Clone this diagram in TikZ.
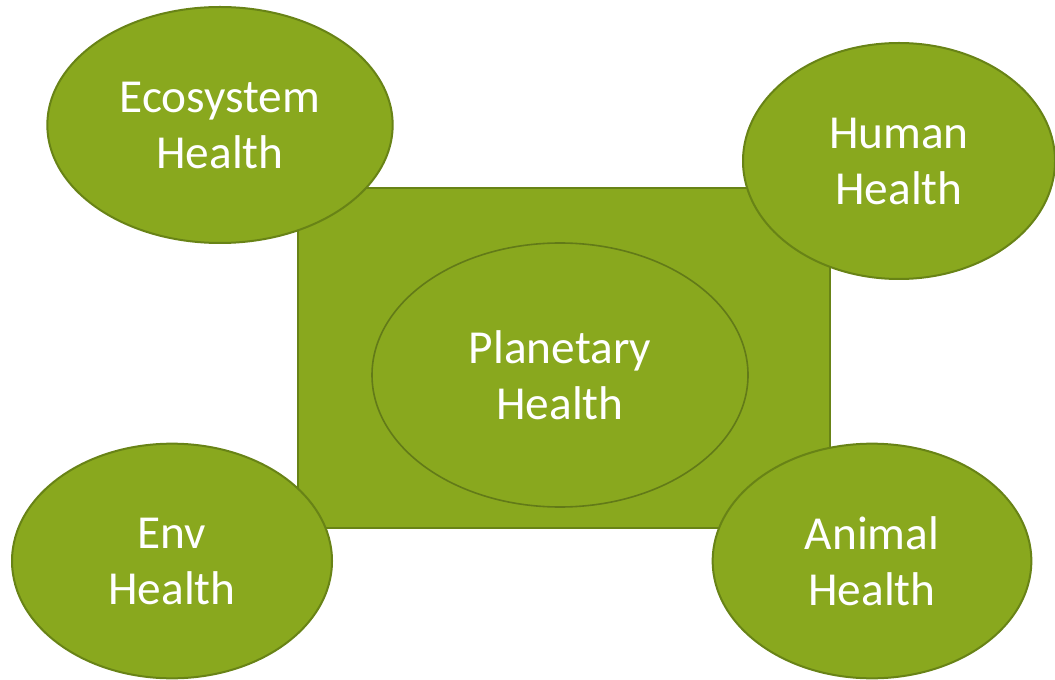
\documentclass[tikz,border=0pt]{standalone}
\usepackage{fontspec}
\setmainfont{Carlito}
\usetikzlibrary{shapes.geometric}
\definecolor{olivefill}{RGB}{137,168,30}
\definecolor{oliveline}{RGB}{104,131,22}
\definecolor{olivedark}{RGB}{98,122,24}

\begin{document}
\begin{tikzpicture}[x=0.75pt, y=-0.75pt,
            every node/.style={ellipse, fill=olivefill, draw=oliveline, line width=1.5pt, inner sep=0pt,
              text=white, align=center, font=\fontsize{35.5}{42}\selectfont},
            box_style/.style={fill=olivefill, draw=oliveline, line width=1.5pt}]
            \tikzset{inner ring/.style={draw=olivedark, line width=1.2pt}}
            \useasboundingbox (0,0) rectangle (1055,680);
            \draw [box_style] (298, 188) rectangle (830, 528);
            \node [inner ring, minimum width=282pt, minimum height=198pt] (planet) at (560, 375) {Planetary\\Health};
            \node [minimum width=259pt, minimum height=177pt] (eco) at (220, 125) {Ecosystem\\Health};
            \node [minimum width=234pt, minimum height=177pt] (human) at (899, 161) {Human\\Health};
            \node [minimum width=240pt, minimum height=176pt] (env) at (172, 561) {Env\\Health};
            \node [minimum width=239pt, minimum height=176pt] (animal) at (872, 561) {Animal\\Health};
        \end{tikzpicture}
\end{document}
